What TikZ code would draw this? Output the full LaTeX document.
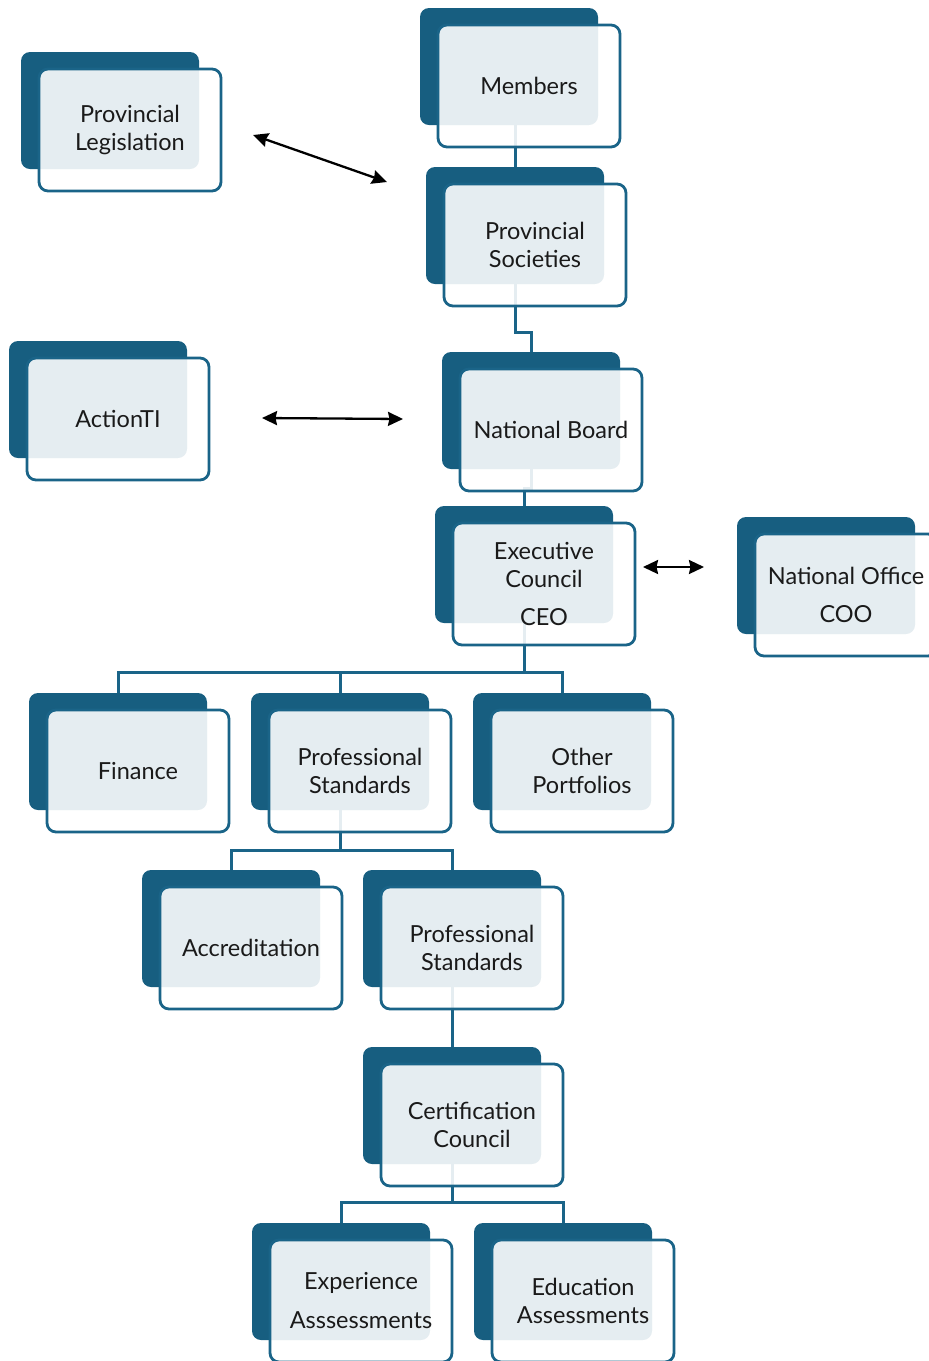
\documentclass[tikz,border=0pt]{standalone}
\usepackage{fontspec}
\setmainfont{Lato}
\usetikzlibrary{arrows.meta,calc}
\definecolor{dkblue}{HTML}{175E80}
\definecolor{lnblue}{HTML}{1A6488}
\definecolor{txtcol}{HTML}{1A1A1A}
\pgfdeclarelayer{background}
\pgfsetlayers{background,main}
\newcommand\orgbox[4]{%
  \node[backbox] (#1-b) at (#2+89,#3+58.5) {};
  \node[frontbox] (#1) at (#2+109,#3+78) {#4};}
\begin{document}
\begin{tikzpicture}[x=1pt,y=-1pt,
  backbox/.style={fill=dkblue, draw=none, rounded corners=9pt, minimum width=178pt, minimum height=117pt, inner sep=0pt},
  frontbox/.style={draw=lnblue, line width=2.8pt, fill=white, fill opacity=0.89, text opacity=1, rounded corners=9pt, minimum width=182pt, minimum height=122pt, inner sep=0pt, align=center, font=\fontsize{23.5}{28}\selectfont, text=txtcol},
  link/.style={draw=lnblue, line width=3pt},
  biarrow/.style={{Stealth[length=15pt,width=14pt,inset=1.5pt]}-{Stealth[length=15pt,width=14pt,inset=1.5pt]}, line width=2.3pt, black}]
\useasboundingbox (0,0) rectangle (929,1361);
\orgbox{pleg}{21}{52}{Provincial\\Legislation}
\orgbox{mem}{420}{8}{Members}
\orgbox{psoc}{426}{167}{Provincial\\Societies}
\orgbox{act}{9}{341}{ActionTI}
\orgbox{nb}{442}{352}{National Board}
\orgbox{exec}{435}{506}{Executive\\Council\\[10pt]CEO}
\orgbox{noff}{737}{517}{National Office\\[10pt]COO}
\orgbox{fin}{29}{693}{Finance}
\orgbox{ps}{251}{693}{Professional\\Standards}
\orgbox{oth}{473}{693}{Other\\Portfolios}
\orgbox{acc}{142}{870}{Accreditation}
\orgbox{pstd}{363}{870}{Professional\\Standards}
\orgbox{cert}{363}{1047}{Certification\\Council}
\orgbox{exp}{252}{1223}{Experience\\[11pt]Asssessments}
\orgbox{edu}{474}{1223}{Education\\Assessments}
\begin{pgfonlayer}{background}
  \draw[link] (psoc-b.north) -- (psoc-b.north |- mem-b.south);
  \draw[link] (psoc-b.south) -- ++(0,48) -| (nb-b.north);
  \draw[link] (nb-b.south) -- ++(0,19) -| (exec-b.north);
  \draw[link] (exec-b.south) -- ++(0,50);
  \draw[link] (fin-b.north) -- ++(0,-20) -| (oth-b.north);
  \draw[link] (ps-b.north) -- ++(0,-20);
  \draw[link] (ps-b.south) -- ++(0,41);
  \draw[link] (acc-b.north) -- ++(0,-19) -| (pstd-b.north);
  \draw[link] (pstd-b.south) -- (cert-b.north);
  \draw[link] (cert-b.south) -- ++(0,40);
  \draw[link] (exp-b.north) -- ++(0,-20) -| (edu-b.north);
\end{pgfonlayer}
\coordinate (a1s) at (253,135);
\coordinate (a1e) at (387,182);
\coordinate (a2s) at (262,418);
\coordinate (a2e) at (403,419);
\coordinate (a3s) at (643,567);
\coordinate (a3e) at (704,567);
\draw[biarrow] (a1s) -- (a1e);
\draw[biarrow] (a2s) -- (a2e);
\draw[biarrow] (a3s) -- (a3e);
\end{tikzpicture}
\end{document}
